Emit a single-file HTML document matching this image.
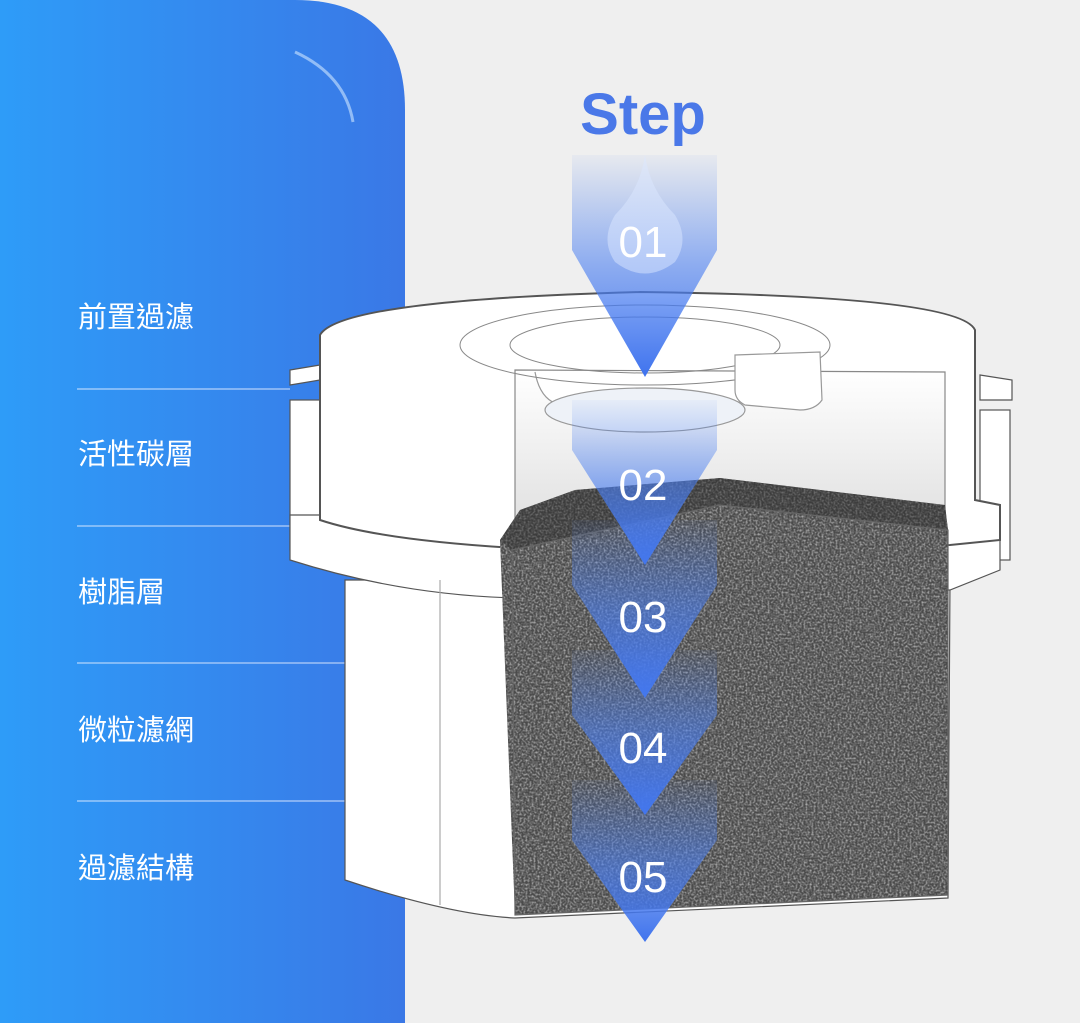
<!DOCTYPE html>
<html><head><meta charset="utf-8"><style>
html,body{margin:0;padding:0;width:1080px;height:1023px;overflow:hidden;background:#efefef;}
.lbl{position:absolute;left:78px;color:#fff;font-family:"Liberation Sans","Noto Sans CJK TC",sans-serif;font-size:29px;line-height:1;}
</style></head><body>
<svg width="1080" height="1023" style="position:absolute;left:0;top:0">
<defs>
<linearGradient id="bl" x1="0" y1="0" x2="1" y2="0"><stop offset="0" stop-color="#2e9cf8"/><stop offset="1" stop-color="#3a78e6"/></linearGradient>
<linearGradient id="ar" x1="0" y1="0" x2="0" y2="1"><stop offset="0" stop-color="#4b7ff0" stop-opacity="0.05"/><stop offset="0.5" stop-color="#4b7ff0" stop-opacity="0.6"/><stop offset="1" stop-color="#3f73ee" stop-opacity="1"/></linearGradient>
<linearGradient id="wall" x1="0" y1="0" x2="0" y2="1"><stop offset="0" stop-color="#ffffff"/><stop offset="1" stop-color="#dcdcdc"/></linearGradient>
<filter id="noise" x="0" y="0" width="100%" height="100%">
<feTurbulence type="fractalNoise" baseFrequency="0.5" numOctaves="2" seed="3"/>
<feColorMatrix type="matrix" values="0 0 0 0 0.85  0 0 0 0 0.85  0 0 0 0 0.85  2.2 0 0 0 -0.85"/>
<feComposite operator="in" in2="SourceGraphic"/>
</filter>
</defs>
<path d="M0,0 H295 Q405,0 405,110 V1023 H0Z" fill="url(#bl)"/>
<path d="M295,52 Q345,75 353,122" stroke="#cfe6ff" stroke-width="3" fill="none" opacity="0.6"/>
<g stroke="#e6eeff" stroke-width="1" opacity="0.9">
<line x1="77" y1="389" x2="290" y2="389"/><line x1="77" y1="526" x2="290" y2="526"/>
<line x1="77" y1="663" x2="345" y2="663"/><line x1="77" y1="801" x2="345" y2="801"/>
</g>
<g stroke="#555" stroke-width="1.2" fill="#fff">
<path d="M290,370 L320,365 L320,380 L290,385Z"/>
<rect x="290" y="400" width="30" height="150"/>
<path d="M980,375 L1012,380 L1012,400 L980,400Z"/>
<rect x="980" y="410" width="30" height="150"/>
<path d="M345,580 L345,880 Q450,915 515,918 L948,898 L950,580Z"/>
<path d="M290,515 L290,560 Q400,595 515,598 L950,590 L1000,570 L1000,515Z"/>
<path d="M320,335 Q340,300 640,292 Q960,296 975,330 L975,500 L1000,505 L1000,540 L950,545 L515,548 Q380,540 320,520Z" stroke-width="2"/>
<path d="M515,370 L945,372 L945,545 L515,548Z" fill="url(#wall)" stroke="#888"/>
<path d="M535,372 Q540,400 560,405 L700,405 L740,402 Q760,400 760,372" fill="#fff" stroke="#999"/>
<ellipse cx="645" cy="410" rx="100" ry="22" fill="#eef2f8" stroke="#999"/>
<ellipse cx="645" cy="345" rx="185" ry="40" fill="none" stroke="#888" stroke-width="1"/>
<ellipse cx="645" cy="345" rx="135" ry="28" fill="none" stroke="#888" stroke-width="1"/>
<path d="M735,355 L820,352 L822,400 Q815,410 800,410 L745,405 Q735,400 735,390Z" fill="#fff" stroke="#999"/>
<line x1="440" y1="580" x2="440" y2="905" stroke="#aaa"/>
</g>
<g>
<path d="M500,540 L520,510 L575,490 L720,478 L945,505 L948,530 L948,895 L515,915Z" fill="#4a4a4a"/>
<path d="M500,540 L520,510 L575,490 L720,478 L945,505 L948,530 L948,895 L515,915Z" fill="#fff" filter="url(#noise)" opacity="0.6"/>
<path d="M500,540 L520,510 L575,490 L720,478 L945,505 L948,530 L720,505 L512,550Z" fill="#2c2c2c" opacity="0.45"/>
<path d="M512,550 L720,505 L948,530 L948,895 L515,915Z" fill="none" stroke="#666" stroke-width="1.2"/>
</g>
<g fill="url(#ar)">
<path d="M572,155 L717,155 L717,250 L645,377 L572,250Z"/>
<path d="M572,400 L717,400 L717,450 L645,565 L572,450Z"/>
<path d="M572,520 L717,520 L717,585 L645,698 L572,585Z"/>
<path d="M572,650 L717,650 L717,715 L645,815 L572,715Z"/>
<path d="M572,780 L717,780 L717,840 L645,942 L572,840Z"/>
</g>
<path d="M645,155 Q640,190 615,215 Q600,240 615,262 Q645,285 675,262 Q690,240 675,215 Q650,190 645,155Z" fill="#dce8ff" opacity="0.5"/>
<g font-family="Liberation Sans,sans-serif" fill="#fff" font-size="44" text-anchor="middle">
<text x="643" y="257">01</text><text x="643" y="500">02</text><text x="643" y="632">03</text><text x="643" y="763">04</text><text x="643" y="892">05</text>
</g>
<text x="643" y="134" text-anchor="middle" font-family="Liberation Sans,sans-serif" font-size="58" font-weight="bold" fill="#4a78e8">Step</text>
</svg>
<div class="lbl" style="top:304px">前置過濾</div>
<div class="lbl" style="top:441px">活性碳層</div>
<div class="lbl" style="top:579px">樹脂層</div>
<div class="lbl" style="top:717px">微粒濾網</div>
<div class="lbl" style="top:855px">過濾結構</div>
</body></html>
